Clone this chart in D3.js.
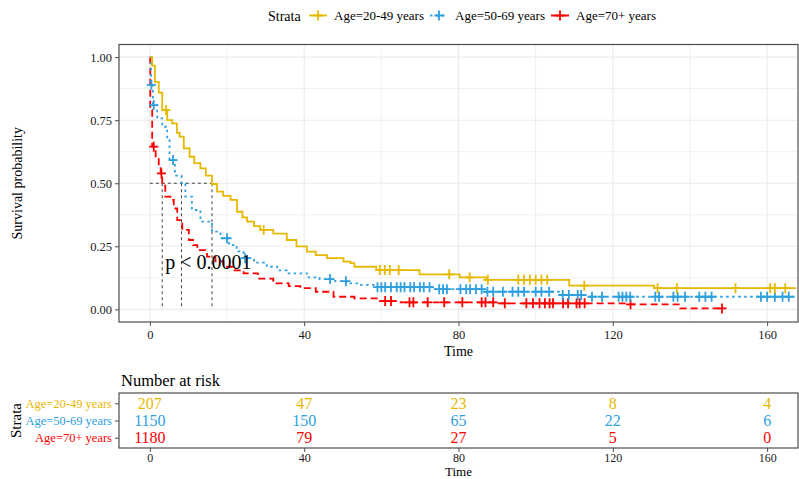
<!DOCTYPE html>
<html>
<head>
<meta charset="utf-8">
<script src="https://cdn.jsdelivr.net/npm/d3@7"></script>
<style>
  html, body { margin: 0; padding: 0; background: #fff; }
  svg { display: block; font-family: "Liberation Serif", "Times New Roman", serif; }
</style>
</head>
<body>
<svg id="chart" width="799" height="479"></svg>
<script>
// ---- Kaplan-Meier data by age stratum ----
const strata = ["Age=20-49 years", "Age=50-69 years", "Age=70+ years"];
const colors = ["#E7B800", "#2E9FDF", "#FF0000"];
const dashes = [null, "2.5,3.5", "7,4"];

// step times and survival after each step
const timeYoung = [0, 0.6, 1.3, 2.3, 3.2, 4.5, 5.8, 7.0, 7.7, 8.8, 10.3, 11.5, 13.1, 14.5, 16.1, 17.4, 19.0, 20.9, 22.6, 24.0, 25.2, 27.0, 28.6, 32.0, 35.5, 38.0, 40.7, 43.0, 45.9, 50.2, 52.0, 53.0, 58.7, 69.9, 80.3, 87.2, 108.7, 130.7, 167.5];
const survYoung = [1.0, 0.966, 0.902, 0.859, 0.79, 0.75, 0.737, 0.70, 0.685, 0.638, 0.605, 0.58, 0.559, 0.53, 0.497, 0.467, 0.45, 0.434, 0.387, 0.365, 0.348, 0.33, 0.315, 0.30, 0.275, 0.25, 0.229, 0.215, 0.203, 0.189, 0.183, 0.169, 0.156, 0.139, 0.127, 0.117, 0.094, 0.084, 0.084];
const censorYoung = [4.2, 29.5, 59.6, 60.9, 62.2, 64.5, 77.6, 82.9, 87.6, 95.5, 97.0, 98.5, 100.0, 101.5, 103.0, 112.6, 131.6, 136.6, 151.8, 160.8, 162.0, 164.7];

const timeMid = [0, 0.3, 0.8, 1.9, 3.2, 4.5, 5.1, 6.5, 8.2, 9.2, 10.9, 13.1, 16.1, 18.3, 20.5, 22.5, 24.3, 27.0, 30.3, 33.0, 35.5, 40.7, 44.0, 48.0, 51.0, 54.0, 58.0, 73.0, 87.0, 106.0, 113.0, 167.5];
const survMid = [1.0, 0.89, 0.81, 0.757, 0.724, 0.671, 0.592, 0.53, 0.497, 0.447, 0.394, 0.348, 0.308, 0.282, 0.255, 0.23, 0.203, 0.185, 0.169, 0.155, 0.143, 0.127, 0.12, 0.112, 0.103, 0.097, 0.088, 0.080, 0.070, 0.057, 0.050, 0.050];
const censorMid = [0.4, 1.0, 6.0, 20.0, 24.7, 46.7, 50.8, 59.0, 60.0, 61.0, 62.5, 64.0, 65.0, 66.0, 67.5, 68.5, 70.0, 71.0, 72.5, 75.0, 76.0, 77.0, 80.5, 82.0, 83.0, 84.5, 86.0, 87.5, 89.0, 91.5, 94.0, 95.5, 97.0, 100.0, 101.5, 103.5, 107.0, 108.6, 110.9, 111.8, 114.6, 117.2, 121.5, 122.5, 123.5, 124.5, 131.0, 132.0, 135.7, 136.8, 138.7, 142.4, 144.0, 145.6, 158.4, 160.0, 162.0, 164.0, 165.6];

const timeOld = [0, 0.1, 0.6, 1.5, 2.3, 2.8, 3.2, 4.0, 5.3, 6.2, 7.1, 8.4, 10.1, 11.2, 12.3, 14.8, 17.0, 19.1, 21.5, 24.3, 28.0, 32.0, 36.0, 39.0, 43.0, 47.6, 53.0, 59.6, 65.0, 90.0, 124.2, 137.5, 148.3];
const survOld = [1.0, 0.79, 0.645, 0.60, 0.56, 0.539, 0.49, 0.447, 0.434, 0.40, 0.354, 0.315, 0.275, 0.255, 0.235, 0.209, 0.19, 0.169, 0.155, 0.143, 0.122, 0.103, 0.092, 0.084, 0.07, 0.05, 0.044, 0.033, 0.028, 0.024, 0.020, 0.004, 0.004];
const censorOld = [1.0, 3.0, 61.0, 62.5, 67.3, 68.3, 72.0, 76.3, 81.0, 86.0, 87.0, 89.0, 92.0, 97.6, 99.3, 101.0, 102.4, 103.6, 104.5, 107.1, 108.4, 110.6, 111.4, 112.7, 124.6, 148.3];

// number at risk
const riskTimes = [0, 40, 80, 120, 160];
const riskYoung = [207, 47, 23, 8, 4];
const riskMid = [1150, 150, 65, 22, 6];
const riskOld = [1180, 79, 27, 5, 0];

const xTicks = [0, 40, 80, 120, 160];
const yTicks = [0, 0.25, 0.5, 0.75, 1.0];
const pLabel = "p < 0.0001";

const groups = [
  { name: strata[0], t: timeYoung, s: survYoung, c: censorYoung, risk: riskYoung },
  { name: strata[1], t: timeMid, s: survMid, c: censorMid, risk: riskMid },
  { name: strata[2], t: timeOld, s: survOld, c: censorOld, risk: riskOld }
];
groups.forEach((g, i) => { g.color = colors[i]; g.dash = dashes[i]; });

// ---- layout ----
const svg = d3.select("#chart");
const P = { left: 119, right: 798, top: 44.5, bottom: 322 };
const T = { top: 393, bottom: 448 };
const border = "#4d4d4d";
const grid = "#ebebeb";

const x = d3.scaleLinear().domain([-8, 168]).range([P.left, P.right]);
const y = d3.scaleLinear().domain([-0.05, 1.05]).range([P.bottom, P.top]);

// survival value in effect at time tt
function survAt(g, tt) {
  const i = d3.bisectRight(g.t, tt) - 1;
  return g.s[Math.max(0, i)];
}

// ---- grid ----
const gGrid = svg.append("g");
d3.range(0, 161, 20).forEach(v => {
  gGrid.append("line").attr("x1", x(v)).attr("x2", x(v)).attr("y1", P.top).attr("y2", P.bottom)
    .attr("stroke", grid).attr("stroke-width", v % 40 === 0 ? 1.1 : 0.8);
});
d3.range(0, 1.01, 0.125).forEach(v => {
  gGrid.append("line").attr("x1", P.left).attr("x2", P.right).attr("y1", y(v)).attr("y2", y(v))
    .attr("stroke", grid).attr("stroke-width", (Math.round(v * 8) % 2 === 0) ? 1.1 : 0.8);
});

svg.append("clipPath").attr("id", "panel").append("rect")
  .attr("x", P.left).attr("y", P.top).attr("width", P.right - P.left).attr("height", P.bottom - P.top);

// ---- median reference lines ----
const medians = groups.map(g => g.t[g.s.findIndex(v => v <= 0.5)]);
const gMed = svg.append("g").attr("stroke", "#444").attr("stroke-width", 1).attr("stroke-dasharray", "3,3");
gMed.append("line").attr("x1", x(0)).attr("x2", x(d3.max(medians))).attr("y1", y(0.5)).attr("y2", y(0.5));
medians.forEach(m => {
  gMed.append("line").attr("x1", x(m)).attr("x2", x(m)).attr("y1", y(0.5)).attr("y2", y(0));
});

// ---- curves ----
const line = d3.line().x(d => x(d[0])).y(d => y(d[1])).curve(d3.curveStepAfter);
const gCurves = svg.append("g").attr("clip-path", "url(#panel)");
groups.slice().reverse().forEach(g => {
  const pts = g.t.map((tt, i) => [tt, g.s[i]]);
  gCurves.append("path").attr("d", line(pts)).attr("fill", "none")
    .attr("stroke", g.color).attr("stroke-width", 1.8)
    .attr("stroke-dasharray", g.dash);
});

// censor marks
function plus(sel, cx, cy, color) {
  sel.append("path").attr("d", `M${cx - 4.5},${cy}H${cx + 4.5}M${cx},${cy - 5}V${cy + 5}`)
    .attr("stroke", color).attr("stroke-width", 1.8).attr("fill", "none");
}
groups.slice().reverse().forEach(g => {
  g.c.forEach(tt => plus(gCurves, x(tt), y(survAt(g, tt)), g.color));
});

// p-value
svg.append("text").attr("x", x(4)).attr("y", 269).attr("font-size", 20).attr("fill", "#000").text(pLabel);

// ---- panel border and axes ----
svg.append("rect").attr("x", P.left).attr("y", P.top).attr("width", P.right - P.left).attr("height", P.bottom - P.top)
  .attr("fill", "none").attr("stroke", border).attr("stroke-width", 1.2);

function styleAxis(g, size) {
  g.select(".domain").remove();
  g.selectAll(".tick line").attr("stroke", border).attr("stroke-width", 1);
  g.selectAll(".tick text").attr("fill", "#1a1a1a").attr("font-size", size)
    .attr("font-family", "Liberation Serif, serif");
}

const yAxis = svg.append("g").attr("transform", `translate(${P.left},0)`)
  .call(d3.axisLeft(y).tickValues(yTicks).tickFormat(d3.format(".2f")).tickSize(4).tickPadding(3));
styleAxis(yAxis, 12.5);

const xAxis = svg.append("g").attr("transform", `translate(0,${P.bottom})`)
  .call(d3.axisBottom(x).tickValues(xTicks).tickSize(4).tickPadding(4));
styleAxis(xAxis, 12.5);

svg.append("text").attr("x", (P.left + P.right) / 2).attr("y", 356).attr("text-anchor", "middle")
  .attr("font-size", 14).text("Time");
svg.append("text").attr("transform", `translate(22,${(P.top + P.bottom) / 2}) rotate(-90)`)
  .attr("text-anchor", "middle").attr("font-size", 14).text("Survival probability");

// ---- legend ----
const lg = svg.append("g");
lg.append("text").attr("x", 268).attr("y", 20.5).attr("font-size", 14).text("Strata");
const keyX = [309, 430, 551];
groups.forEach((g, i) => {
  const k0 = keyX[i];
  lg.append("line").attr("x1", k0).attr("x2", k0 + 18).attr("y1", 15.5).attr("y2", 15.5)
    .attr("stroke", g.color).attr("stroke-width", 1.8).attr("stroke-dasharray", g.dash);
  plus(lg, k0 + 9, 15.5, g.color);
  lg.append("text").attr("x", k0 + 25).attr("y", 20).attr("font-size", 13).text(g.name);
});

// ---- number at risk table ----
svg.append("text").attr("x", 121).attr("y", 386).attr("font-size", 16.5).text("Number at risk");

const yr = d3.scalePoint().domain(strata).range([403.3, 437.7]);
svg.append("rect").attr("x", P.left).attr("y", T.top).attr("width", P.right - P.left).attr("height", T.bottom - T.top)
  .attr("fill", "none").attr("stroke", border).attr("stroke-width", 1.2);

groups.forEach(g => {
  riskTimes.forEach((tt, i) => {
    svg.append("text").attr("x", x(tt)).attr("y", yr(g.name) + 5.5).attr("text-anchor", "middle")
      .attr("font-size", 16).attr("fill", g.color).text(g.risk[i]);
  });
});

const ryAxis = svg.append("g").attr("transform", `translate(${P.left},0)`)
  .call(d3.axisLeft(yr).tickSize(4).tickPadding(3));
styleAxis(ryAxis, 12.5);
ryAxis.selectAll(".tick text").attr("fill", (d, i) => colors[i]);

const rxAxis = svg.append("g").attr("transform", `translate(0,${T.bottom})`)
  .call(d3.axisBottom(x).tickValues(riskTimes).tickSize(4).tickPadding(1.5));
styleAxis(rxAxis, 12);

svg.append("text").attr("transform", `translate(21,${(T.top + T.bottom) / 2}) rotate(-90)`)
  .attr("text-anchor", "middle").attr("font-size", 15).text("Strata");
svg.append("text").attr("x", (P.left + P.right) / 2).attr("y", 475.5).attr("text-anchor", "middle")
  .attr("font-size", 13).text("Time");
</script>
</body>
</html>
